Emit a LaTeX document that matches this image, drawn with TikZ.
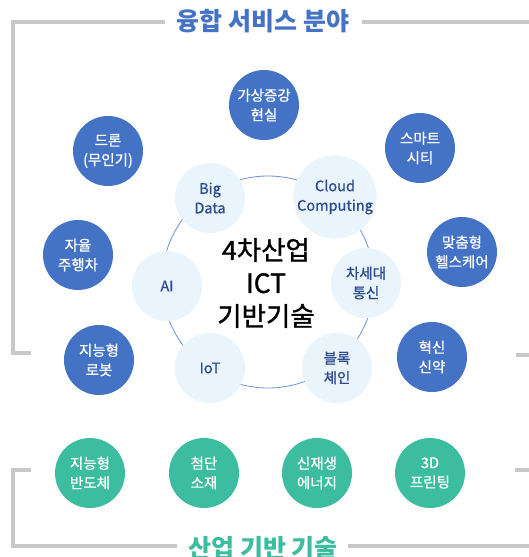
\documentclass[tikz,border=0pt]{standalone}
\usepackage{fontspec}
\setmainfont{Noto Sans CJK KR}
\newfontfamily\medfont[FakeBold=0.8]{Noto Sans CJK KR}
\newfontfamily\corefont[FakeBold=1.2]{Noto Sans CJK KR}
\definecolor{svcblue}{HTML}{4472C4}
\definecolor{indgreen}{HTML}{3CBDA0}
\definecolor{techfill}{HTML}{E9F4FC}
\definecolor{techtext}{HTML}{2D4C8E}
\definecolor{ringline}{HTML}{6B91DA}
\definecolor{frame}{HTML}{C8C8C8}
\begin{document}
\begin{tikzpicture}[x=1pt,y=-1pt,
  svc/.style={circle,fill=svcblue,minimum size=70pt,inner sep=0pt,text=white,align=center,font=\medfont\fontsize{14.5}{19.5}\selectfont},
  ind/.style={circle,fill=indgreen,minimum size=70pt,inner sep=0pt,text=white,align=center,font=\medfont\fontsize{14.5}{19.5}\selectfont},
  tech/.style={circle,fill=techfill,minimum size=70pt,inner sep=0pt,text=techtext,align=center,font=\medfont\fontsize{14.5}{19.5}\selectfont},
  bracket/.style={draw=frame,line width=4pt},
  ttl/.style={font=\fontsize{25}{30}\selectfont\bfseries,inner sep=0pt}]
\useasboundingbox (0,0) rectangle (529,557);
% titles
\node[ttl,text=svcblue] (t1) at (263,21) {융합 서비스 분야};
\node[ttl,text=indgreen] (t2) at (263,548) {산업 기반 기술};
% frames
\coordinate (a1) at (165,22); \coordinate (a2) at (13,22); \coordinate (a3) at (13,353); \coordinate (a4) at (31,353);
\coordinate (b1) at (362,22); \coordinate (b2) at (531,22);
\coordinate (b3) at (516,355); \coordinate (b4) at (531,355);
\draw[bracket] (a1) -- (a2) -- (a3) -- (a4);
\draw[bracket] (b1) -- (b2);
\draw[bracket] (b3) -- (b4);
\coordinate (c1) at (31,470); \coordinate (c2) at (13,470); \coordinate (c3) at (13,546); \coordinate (c4) at (177,546);
\coordinate (d1) at (348,546); \coordinate (d2) at (531,546);
\coordinate (d3) at (515,470); \coordinate (d4) at (531,470);
\draw[bracket] (c1) -- (c2) -- (c3) -- (c4);
\draw[bracket] (d1) -- (d2);
\draw[bracket] (d3) -- (d4);
% ring
\coordinate (rc) at (268,282);
\draw[ringline,line width=0.8pt] (rc) circle[radius=106];
% tech nodes
\node[tech] (bigdata) at (210,198) {Big\\Data};
\node[tech] (cloud) at (335,197) {Cloud\\Computing};
\node[tech] (nextcom) at (366,283) {차세대\\통신};
\node[tech] (block) at (337,368) {블록\\체인};
\node[tech] (iot) at (210,368) {IoT};
\node[tech] (ai) at (167,286) {AI};
\node[font=\corefont\fontsize{26.5}{33}\selectfont,align=center,text=black] (core) at (266,283) {4차산업\\ICT\\기반기술};
% service nodes
\node[svc] (ar) at (264,105) {가상증강\\현실};
\node[svc] (drone) at (108,151) {드론\\(무인기)};
\node[svc] (car) at (78,255) {자율\\주행차};
\node[svc] (robot) at (99,360) {지능형\\로봇};
\node[svc] (city) at (420,148) {스마트\\시티};
\node[svc] (health) at (462,252) {맞춤형\\헬스케어};
\node[svc] (drug) at (432,357) {혁신\\신약};
% industry nodes
\node[ind] (semi) at (90,473) {지능형\\반도체};
\node[ind] (mat) at (204,473) {첨단\\소재};
\node[ind] (energy) at (317,473) {신재생\\에너지};
\node[ind] (print) at (430,473) {3D\\프린팅};
\end{tikzpicture}
\end{document}
